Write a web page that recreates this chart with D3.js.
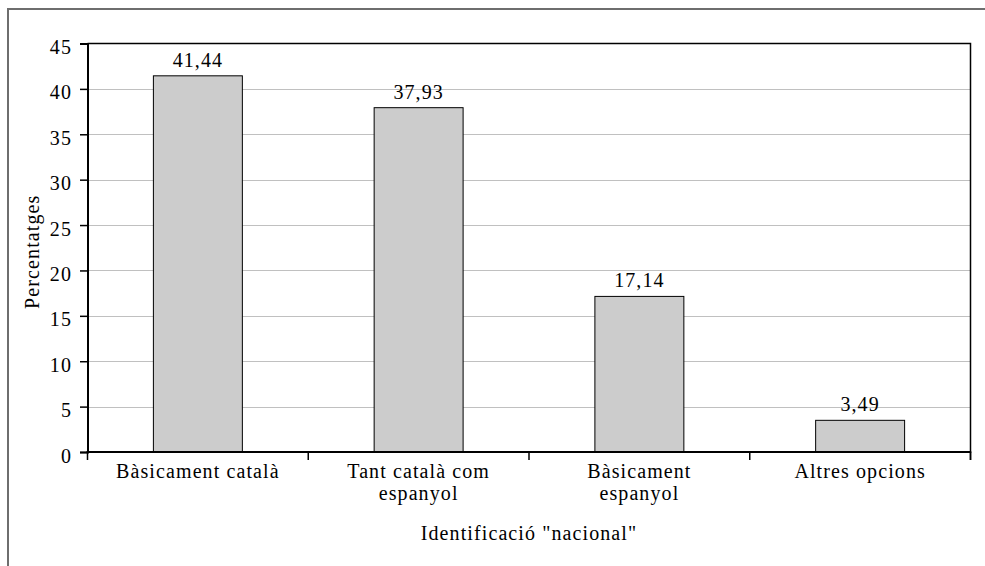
<!DOCTYPE html>
<html>
<head>
<meta charset="utf-8">
<script src="https://cdn.jsdelivr.net/npm/d3@7"></script>
<style>
  html, body { margin: 0; padding: 0; background: #fff; }
  svg text { font-family: "Liberation Serif", "Times New Roman", serif; fill: #000; }
</style>
</head>
<body>
<svg id="chart" width="985" height="566"></svg>
<script>
// Data
const categories = [["Bàsicament català"], ["Tant català com", "espanyol"], ["Bàsicament", "espanyol"], ["Altres opcions"]];
const values = [41.44, 37.93, 17.14, 3.49];
const valueLabels = ["41,44", "37,93", "17,14", "3,49"];
const yTicks = [0, 5, 10, 15, 20, 25, 30, 35, 40, 45];
const yTitle = "Percentatges";
const xTitle = "Identificació \"nacional\"";

const svg = d3.select("#chart");
const W = 985, H = 566;
const plot = { left: 87.5, right: 970.5, top: 43.5, bottom: 452 };
const fontSize = 20, ls = "1.1px";

// outer frame (left and top visible)
svg.append("path")
  .attr("d", `M8,${H + 5} L8,9 L${W + 5},9`)
  .attr("fill", "none").attr("stroke", "#6e6e6e").attr("stroke-width", 2);

const x = d3.scaleBand().domain(d3.range(categories.length)).range([plot.left, plot.right]).padding(0);
const y = d3.scaleLinear().domain([0, 45]).range([plot.bottom, plot.top]);

// gridlines
svg.append("g").selectAll("line").data(yTicks.filter(t => t > 0 && t < 45)).join("line")
  .attr("x1", plot.left).attr("x2", plot.right)
  .attr("y1", d => Math.round(y(d)) + 0.5).attr("y2", d => Math.round(y(d)) + 0.5)
  .attr("stroke", "#c0c0c0").attr("stroke-width", 1);

// bars
const barW = x.bandwidth() * 0.403;
svg.append("g").selectAll("rect").data(values).join("rect")
  .attr("x", (d, i) => x(i) + (x.bandwidth() - barW) / 2)
  .attr("y", d => y(d))
  .attr("width", barW)
  .attr("height", d => y(0) - y(d))
  .attr("fill", "#cccccc").attr("stroke", "#000").attr("stroke-width", 1);

// value labels
svg.append("g").selectAll("text").data(values).join("text")
  .attr("x", (d, i) => x(i) + x.bandwidth() / 2)
  .attr("y", d => y(d) - 9)
  .attr("text-anchor", "middle")
  .style("font-size", fontSize + "px").style("letter-spacing", ls)
  .text((d, i) => valueLabels[i]);

// plot frame: top and right
svg.append("path")
  .attr("d", `M${plot.left},${plot.top} L${plot.right},${plot.top} L${plot.right},${plot.bottom + 8}`)
  .attr("fill", "none").attr("stroke", "#000").attr("stroke-width", 1.5);

// y axis
const yAxis = d3.axisLeft(y).tickValues(yTicks).tickSize(7.5).tickPadding(8).tickFormat(d3.format("d"));
const gy = svg.append("g").attr("transform", `translate(${plot.left},0)`).call(yAxis);
gy.select(".domain").attr("stroke", "#000").attr("stroke-width", 2);
gy.selectAll(".tick line").attr("stroke", "#000").attr("stroke-width", 1.5);
gy.selectAll(".tick text")
  .attr("dy", null).attr("y", 10)
  .style("font-size", fontSize + "px").style("letter-spacing", ls)
  .style("font-family", "'Liberation Serif', serif").attr("fill", "#000");

// x axis with ticks at category boundaries
const boundaries = d3.range(categories.length + 1).map(i => plot.left + i * x.step());
svg.append("line")
  .attr("x1", plot.left - 1).attr("x2", plot.right + 0.75)
  .attr("y1", plot.bottom).attr("y2", plot.bottom)
  .attr("stroke", "#000").attr("stroke-width", 2);
svg.append("g").selectAll("line").data(boundaries).join("line")
  .attr("x1", d => d).attr("x2", d => d)
  .attr("y1", plot.bottom).attr("y2", plot.bottom + 8)
  .attr("stroke", "#000").attr("stroke-width", 1.5);

// x category labels
const xl = svg.append("g").selectAll("text").data(categories).join("text")
  .attr("x", (d, i) => x(i) + x.bandwidth() / 2)
  .attr("y", 478)
  .attr("text-anchor", "middle")
  .style("font-size", fontSize + "px").style("letter-spacing", ls);
xl.selectAll("tspan").data(d => d).join("tspan")
  .attr("x", function() { return this.parentNode.getAttribute("x"); })
  .attr("dy", (d, j) => j === 0 ? 0 : 22)
  .text(d => d);

// axis titles
svg.append("text")
  .attr("x", (plot.left + plot.right) / 2).attr("y", 540)
  .attr("text-anchor", "middle")
  .style("font-size", fontSize + "px").style("letter-spacing", ls)
  .text(xTitle);

svg.append("text")
  .attr("transform", `translate(39,${(plot.top + plot.bottom) / 2 + 4}) rotate(-90)`)
  .attr("text-anchor", "middle")
  .style("font-size", fontSize + "px").style("letter-spacing", ls)
  .text(yTitle);
</script>
</body>
</html>
